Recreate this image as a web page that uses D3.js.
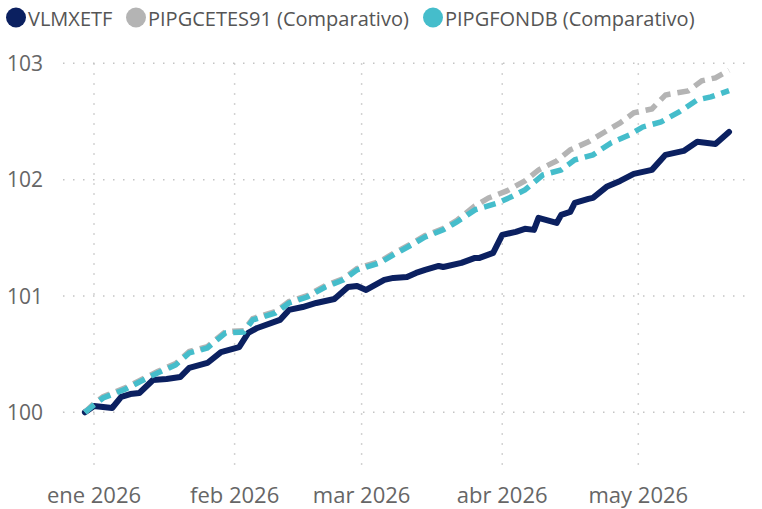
<!DOCTYPE html>
<html><head><meta charset="utf-8">
<script src="https://cdn.jsdelivr.net/npm/d3@7"></script>
<style>
html,body{margin:0;padding:0;background:#fff;}
svg{display:block;font-family:"Segoe UI","Open Sans","Noto Sans",sans-serif;}
</style></head>
<body><svg id="c" width="762" height="509"></svg>
<script>
// ---- data ----
const seriesNames = ["VLMXETF", "PIPGCETES91 (Comparativo)", "PIPGFONDB (Comparativo)"];
const seriesColors = ["#0B2060", "#B4B4B4", "#45BDCB"];

const vlmxDates = ["2025-12-30","2026-01-01","2026-01-05","2026-01-07","2026-01-09","2026-01-11","2026-01-14","2026-01-17","2026-01-20","2026-01-22","2026-01-26","2026-01-29","2026-02-02","2026-02-04","2026-02-06","2026-02-11","2026-02-13","2026-02-16","2026-02-19","2026-02-23","2026-02-26","2026-02-28","2026-03-02","2026-03-06","2026-03-08","2026-03-11","2026-03-13","2026-03-15","2026-03-18","2026-03-19","2026-03-23","2026-03-26","2026-03-27","2026-03-30","2026-04-01","2026-04-04","2026-04-06","2026-04-08","2026-04-09","2026-04-13","2026-04-14","2026-04-16","2026-04-17","2026-04-20","2026-04-21","2026-04-24","2026-04-27","2026-04-30","2026-05-04","2026-05-07","2026-05-11","2026-05-14","2026-05-18","2026-05-21"];
const vlmxValues = [100.00,100.054,100.037,100.132,100.157,100.166,100.278,100.286,100.303,100.381,100.424,100.518,100.561,100.682,100.725,100.794,100.880,100.905,100.940,100.974,101.077,101.086,101.052,101.138,101.155,101.164,101.198,101.224,101.258,101.249,101.284,101.327,101.327,101.370,101.525,101.551,101.577,101.568,101.671,101.628,101.697,101.723,101.800,101.834,101.843,101.938,101.989,102.049,102.084,102.213,102.247,102.325,102.307,102.410];

const cetesDates = ["2025-12-30","2026-01-01","2026-01-03","2026-01-08","2026-01-11","2026-01-15","2026-01-19","2026-01-22","2026-01-26","2026-01-30","2026-02-03","2026-02-05","2026-02-10","2026-02-13","2026-02-17","2026-02-21","2026-02-25","2026-02-28","2026-03-05","2026-03-08","2026-03-12","2026-03-15","2026-03-19","2026-03-22","2026-03-26","2026-03-29","2026-04-02","2026-04-06","2026-04-09","2026-04-13","2026-04-16","2026-04-20","2026-04-24","2026-04-27","2026-04-30","2026-05-04","2026-05-07","2026-05-12","2026-05-15","2026-05-18","2026-05-21"];
const cetesValues = [100.00,100.075,100.135,100.212,100.272,100.350,100.419,100.522,100.565,100.694,100.702,100.806,100.866,100.952,101.003,101.089,101.150,101.236,101.296,101.365,101.451,101.519,101.580,101.650,101.775,101.843,101.903,101.989,102.083,102.161,102.256,102.325,102.419,102.488,102.574,102.608,102.728,102.763,102.849,102.875,102.940];

const fondbDates = ["2025-12-30","2026-01-01","2026-01-03","2026-01-08","2026-01-11","2026-01-15","2026-01-19","2026-01-22","2026-01-26","2026-01-30","2026-02-03","2026-02-05","2026-02-10","2026-02-13","2026-02-17","2026-02-21","2026-02-25","2026-02-28","2026-03-05","2026-03-08","2026-03-12","2026-03-15","2026-03-19","2026-03-22","2026-03-26","2026-03-31","2026-04-03","2026-04-06","2026-04-10","2026-04-14","2026-04-17","2026-04-21","2026-04-25","2026-04-29","2026-05-02","2026-05-06","2026-05-10","2026-05-14","2026-05-17","2026-05-21"];
const fondbValues = [100.00,100.063,100.123,100.200,100.260,100.338,100.407,100.510,100.553,100.682,100.690,100.794,100.854,100.940,100.991,101.077,101.138,101.224,101.284,101.353,101.439,101.507,101.568,101.636,101.740,101.800,101.852,101.912,102.041,102.084,102.170,102.213,102.316,102.384,102.453,102.496,102.582,102.685,102.711,102.765];

const yTicks = [100, 101, 102, 103];
const xTickDates = ["2026-01-01","2026-02-01","2026-03-01","2026-04-01","2026-05-01"];
const xTickLabels = ["ene 2026","feb 2026","mar 2026","abr 2026","may 2026"];

// ---- layout ----
const svg = d3.select("#c");
const parse = d3.utcParse("%Y-%m-%d");
const x = d3.scaleUtc().domain([parse("2026-01-01"), parse("2026-05-01")]).range([94, 638.3]);
const y = d3.scaleLinear().domain([100, 103]).range([412.3, 63.3]);
const gridLeft = 63, gridRight = 747, gridTop = 63.3, gridBottom = 473;

// grid
const grid = svg.append("g");
grid.selectAll("line.h").data(yTicks).join("line")
  .attr("x1", gridLeft).attr("x2", gridRight)
  .attr("y1", d => y(d)).attr("y2", d => y(d))
  .attr("stroke", "#c4c4c4").attr("stroke-width", 1.5).attr("stroke-dasharray", "1.5,8.5");
grid.selectAll("line.v").data(xTickDates).join("line")
  .attr("x1", d => x(parse(d))).attr("x2", d => x(parse(d)))
  .attr("y1", gridTop).attr("y2", gridBottom)
  .attr("stroke", "#c4c4c4").attr("stroke-width", 1.5).attr("stroke-dasharray", "1.5,8.5");

// axes labels
svg.append("g").selectAll("text").data(yTicks).join("text")
  .attr("x", 43).attr("y", d => y(d)).attr("dy", "0.36em")
  .attr("text-anchor", "end").attr("fill", "#666").attr("font-size", 21)
  .text(d => d);
svg.append("g").selectAll("text").data(xTickDates).join("text")
  .attr("x", d => x(parse(d))).attr("y", 503)
  .attr("text-anchor", "middle").attr("fill", "#666").attr("font-size", 22)
  .text((d, i) => xTickLabels[i]);

// lines
const line = d3.line().x(d => x(d[0])).y(d => y(d[1]));
const mk = (ds, vs) => ds.map((d, i) => [parse(d), vs[i]]);

svg.append("path").datum(mk(vlmxDates, vlmxValues))
  .attr("d", line).attr("fill", "none").attr("stroke", seriesColors[0])
  .attr("stroke-width", 6).attr("stroke-linejoin", "round").attr("stroke-linecap", "round");
svg.append("path").datum(mk(cetesDates, cetesValues))
  .attr("d", line).attr("fill", "none").attr("stroke", seriesColors[1])
  .attr("stroke-width", 5.5).attr("stroke-dasharray", "12,7");
svg.append("path").datum(mk(fondbDates, fondbValues))
  .attr("d", line).attr("fill", "none").attr("stroke", seriesColors[2])
  .attr("stroke-width", 5.5).attr("stroke-dasharray", "12,7");

// legend
const legX = [16, 136, 433];
const leg = svg.append("g");
seriesNames.forEach((n, i) => {
  leg.append("circle").attr("cx", legX[i]).attr("cy", 17.5).attr("r", 10).attr("fill", seriesColors[i]);
  leg.append("text").attr("x", legX[i] + 12).attr("y", 26).attr("fill", "#555")
    .attr("font-size", 20).text(n);
});
</script>
</body></html>
